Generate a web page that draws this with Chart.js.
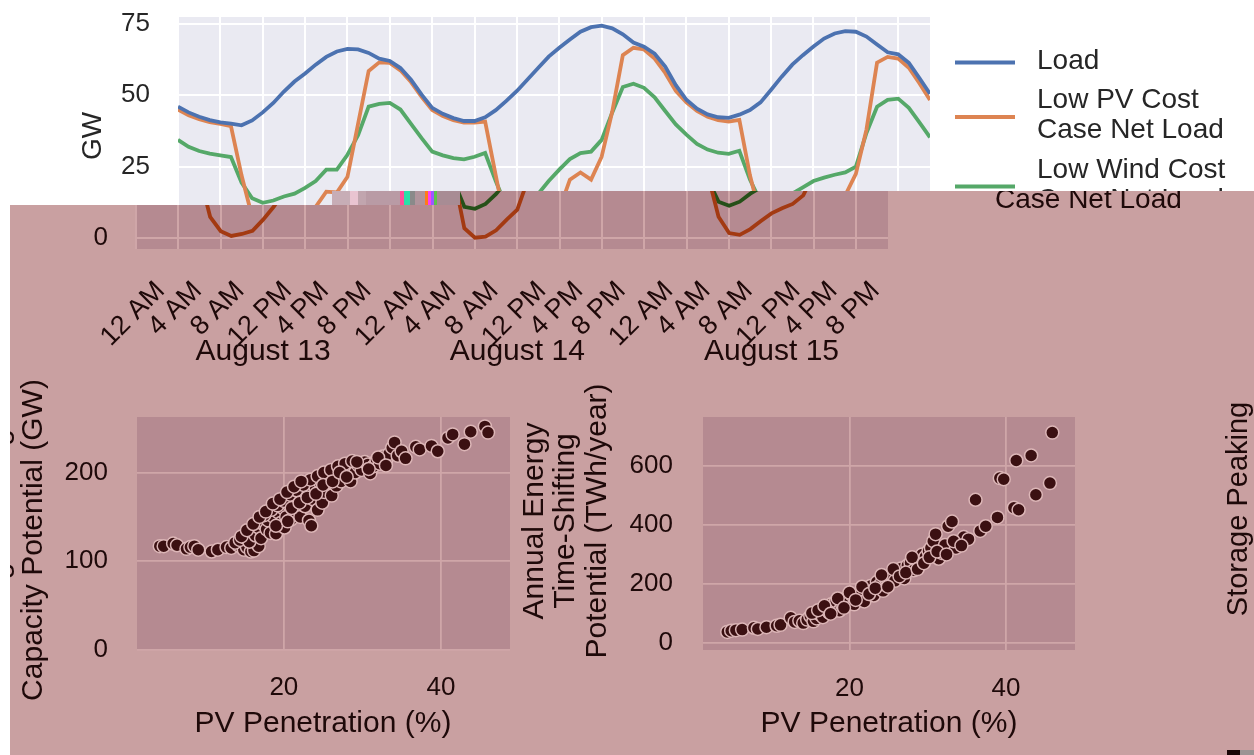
<!DOCTYPE html>
<html>
<head>
<meta charset="utf-8">
<script src="https://cdn.jsdelivr.net/npm/chart.js@4.4.1/dist/chart.umd.min.js"></script>
<style>
  html, body { margin: 0; padding: 0; background: #ffffff; }
  #page { position: relative; width: 1254px; height: 755px; overflow: hidden; }
  canvas { position: absolute; left: 0; top: 0; }
  #lower {
    position: absolute; left: 0; top: 0; width: 1254px; height: 755px;
    background: #c9a0a1;
    clip-path: polygon(10px 205px, 332px 205px, 332px 191px, 1254px 191px, 1254px 755px, 10px 755px);
  }
  #strip {
    position: absolute; left: 332px; top: 191px; width: 128px; height: 14px;
    background: linear-gradient(to right,
      #c7adb6 0px, #c7adb6 18px, #e9c4d1 18px, #e9c4d1 26px, #c1a5ae 26px, #c1a5ae 34px,
      #b99ba5 34px, #b99ba5 68px, #ff4f9a 68px, #ff4f9a 72px, #2adfa8 72px, #2adfa8 78px,
      #8a8a8a 78px, #8a8a8a 83px, #b0949c 83px, #b0949c 93px, #ff7a1a 93px, #ff7a1a 96px,
      #ff3df0 96px, #ff3df0 99px, #9b59ff 99px, #9b59ff 102px, #5fc24a 102px, #5fc24a 105px,
      #a88c94 105px, #a88c94 128px);
  }
  #corner1 { position: absolute; left: 1227px; top: 750px; width: 13px; height: 5px; background: #1a0606; }
  #corner2 { position: absolute; left: 1240px; top: 750px; width: 14px; height: 5px; background: #9c9494; }
</style>
</head>
<body>
<div id="page">
  <canvas id="topChart" width="1254" height="755"></canvas>
  <div id="lower">
    <canvas id="copyChart" width="1254" height="755"></canvas>
    <canvas id="capChart" width="1254" height="755"></canvas>
    <canvas id="shiftChart" width="1254" height="755"></canvas>
  </div>
  <div id="strip"></div>
  <div id="corner1"></div>
  <div id="corner2"></div>
</div>
<script>
// ---------- data ----------
const HOURS = [0,1,2,3,4,5,6,7,8,9,10,11,12,13,14,15,16,17,18,19,20,21,22,23,
               24,25,26,27,28,29,30,31,32,33,34,35,36,37,38,39,40,41,42,43,44,45,46,47,
               48,49,50,51,52,53,54,55,56,57,58,59,60,61,62,63,64,65,66,67,68,69,70,71];
const HOUR_LABELS = ['12 AM', '4 AM', '8 AM', '12 PM', '4 PM', '8 PM'];
const DAY_LABELS = ['August 13', 'August 14', 'August 15'];
const SERIES_NAMES = ['Load', 'Low PV Cost\nCase Net Load', 'Low Wind Cost\nCase Net Load'];

const LOAD = [46,44,42.5,41.3,40.5,40.1,39.5,41.2,44,47.3,51.3,54.8,57.6,60.7,63.4,65.3,66.2,66,64.8,62.8,62,59.5,55.4,50.2,
              45.6,43.5,42,41,41,42.3,44.8,48,51.5,55.5,59.5,63.5,66.6,69.5,72.2,73.8,74.3,73.4,71.3,68.4,67,64.5,60,53.5,
              48.4,45.3,43.3,42.3,42.1,43.2,44.8,47.5,51.9,56.5,60.7,64,67,69.8,71.6,72.4,72.2,70.5,67.7,65,64.3,61.3,56,50.5];
const PV_NET = [45,43,41.6,40.6,40,39.2,22,7.5,2.5,0.8,1.5,2.6,6.5,11,16.3,16,21.5,40,58.5,61.5,61.3,58.7,54.6,49.4,
                44.8,42.7,41.3,40.4,40.4,40.8,22,3.5,0.2,0.6,2.8,6.5,10,20.5,23,20.5,28.5,44.3,64,66.6,66,62.8,57.8,51.5,
                47.5,44.5,42.5,41.3,40.8,41.4,22,7.5,1.8,1.2,3.2,6,8.7,10.5,12,15,22.5,38,61.4,63.4,62.8,59.6,54.2,48.3];
const WIND_NET = [34.4,32,30.5,29.6,29,28.4,19.5,14,12.4,13.2,14.6,15.6,17.6,20,24,24,29.2,36,46,47,47.3,45,40,35,
                  30.3,29,28,27.6,28.5,29.8,20,11,10.3,12,15.5,20,24,27.7,29.8,30.3,34.4,44,52.9,54,52.6,49.3,44.5,39.8,
                  36.2,33,31,29.9,29.5,30.6,20.5,12.8,11.4,12.8,15.6,17.8,20,21.2,22.2,23,25,36.8,46,48.4,48.8,45.6,40.5,35.3];
const GW_TICKS = [0, 25, 50, 75];

// storage peaking capacity potential vs PV penetration
const CAP_PEN = [4.2,4.7,5.9,6.4,7.6,8.1,8.6,9.1,10.8,11.6,12.7,13.3,14.2,14.9,15.3,15.8,16.2,16.8,
                 13.8,14.4,15.0,15.6,16.0,16.4,16.8,17.1,17.4,17.8,18.0,18.3,18.7,19.0,19.3,19.6,19.9,20.1,
                 20.3,20.6,20.9,21.2,21.5,21.8,22.1,22.4,22.7,23.0,23.2,23.5,23.7,24.0,24.3,24.6,24.9,25.2,
                 25.5,25.8,26.1,26.4,26.7,27.0,27.3,27.6,27.9,28.2,28.5,28.8,29.1,29.5,29.9,30.3,30.7,31.0,
                 31.4,31.8,32.2,32.6,33.0,33.4,33.8,34.1,34.5,35.0,35.5,36.8,37.3,38.8,39.6,40.9,41.5,43.0,
                 43.8,45.6,46.0,17.5,18.4,19.2,20.0,20.8,21.6,22.5,23.4,24.3,25.1,26.0,26.9,27.8,28.7,
                 14.6,15.3,16.1,16.9,17.7,18.6,19.5,20.4,21.3,22.2,19.0,20.5,21.0,22.0,23.0,24.1,
                 25.0,26.2,27.1,28.0,29.3,30.8,32.0,33.0];
const CAP_GW = [117,117,120,118,114,116,117,113,111,113,116,115,118,113,116,111,112,117,
                121,124,127,122,133,129,138,126,142,136,146,132,150,131,155,143,160,138,
                150,164,147,168,156,172,150,176,162,180,146,140,170,184,158,189,166,178,
                193,189,174,198,185,196,190,202,198,205,190,206,200,208,203,212,209,199,
                207,214,210,218,213,221,228,234,219,224,216,229,226,230,224,239,243,232,
                246,252,245,152,158,163,168,175,180,186,192,196,200,203,207,210,213,
                128,135,142,150,156,165,170,178,184,190,140,145,160,166,172,176,
                186,190,200,195,212,204,217,208];
const CAP_TICKS = [0, 100, 200];

// annual energy time-shifting potential vs PV penetration
const SHIFT_PEN = [4.4,4.9,5.5,6.3,7.8,8.3,9.4,10.7,11.2,12.5,13.0,13.6,14.1,14.6,15.0,15.4,15.8,16.2,
                   16.6,17.0,17.4,17.7,18.0,18.3,18.7,19.1,19.5,19.9,20.3,20.6,21.1,21.5,21.9,22.3,22.7,23.1,
                   23.5,23.9,24.3,24.6,25.0,25.4,25.8,26.2,26.6,27.0,27.4,27.8,28.2,28.6,28.9,29.3,29.7,30.1,
                   30.4,30.7,31.0,31.4,31.8,32.2,32.6,33.1,33.6,34.1,34.6,35.2,36.1,36.7,37.4,38.9,39.2,39.7,
                   41.0,41.6,41.3,43.2,43.8,45.6,45.9,
                   15.2,16.0,16.8,17.6,18.5,19.3,20.0,20.8,21.6,22.5,23.3,24.1,24.9,25.6,26.4,27.2,
                   28.0,28.7,29.5,30.2,31.2,32.4,33.3,34.3];
const SHIFT_TWH = [36,40,42,44,50,46,52,57,60,84,70,74,66,78,90,72,82,96,
                   86,112,102,130,118,140,108,126,150,142,162,130,156,175,140,180,192,160,
                   206,196,176,218,202,230,210,242,252,218,262,272,246,282,262,300,292,312,
                   322,345,369,285,305,332,396,412,322,342,359,352,486,380,396,426,560,556,
                   459,452,620,637,503,543,715,
                   100,110,125,98,150,118,170,145,190,165,185,230,190,250,225,238,
                   290,250,270,290,310,300,345,330];
const SHIFT_TICKS = [0, 200, 400, 600];
const PEN_TICKS = [20, 40];

// ---------- look ----------
const W = 1254, H = 755;
const FONT = '"Liberation Sans", Arial, Helvetica, sans-serif';
const LIGHT = { plot: '#eaeaf2', grid: '#ffffff', text: '#262626', lines: ['#4c72b0', '#dd8452', '#55a868'] };
const PINK = { plot: '#b58a91', grid: '#cfa6a8', text: '#1e0909', lines: ['#3c4d83', '#a33a12', '#265018'] };
const CLEAR = 'rgba(0,0,0,0)';

Chart.defaults.font.family = FONT;

const plotBg = {
  id: 'plotBg',
  beforeDraw(chart, args, opts) {
    const { ctx, chartArea: a } = chart;
    ctx.save();
    ctx.fillStyle = opts.color;
    ctx.fillRect(a.left, a.top, a.right - a.left, a.bottom - a.top);
    ctx.restore();
  }
};

const texts = {
  id: 'texts',
  afterDraw(chart, args, opts) {
    const ctx = chart.ctx;
    (opts.items || []).forEach(t => {
      ctx.save();
      ctx.font = t.size + 'px ' + FONT;
      ctx.fillStyle = t.color;
      ctx.textAlign = t.align || 'center';
      ctx.textBaseline = t.baseline || 'middle';
      ctx.translate(t.x, t.y);
      if (t.rot) ctx.rotate(t.rot * Math.PI / 180);
      ctx.fillText(t.text, 0, 0);
      ctx.restore();
    });
  }
};

// slanted hour labels and day names under the time axis
const hourLabels = {
  id: 'hourLabels',
  afterDraw(chart, args, opts) {
    if (!opts.show) return;
    const ctx = chart.ctx, xs = chart.scales.x;
    ctx.save();
    ctx.fillStyle = opts.color;
    ctx.font = opts.size + 'px ' + FONT;
    ctx.textAlign = 'center';
    ctx.textBaseline = 'middle';
    xs.ticks.forEach(t => {
      const label = HOUR_LABELS[(t.value / 4) % HOUR_LABELS.length];
      const w = ctx.measureText(label).width;
      const ext = (w + opts.size * 0.8) * Math.SQRT1_2;
      ctx.save();
      ctx.translate(xs.getPixelForValue(t.value) + opts.dx, opts.top + ext / 2);
      ctx.rotate(-Math.PI / 4);
      ctx.fillText(label, 0, 0);
      ctx.restore();
    });
    ctx.font = opts.daySize + 'px ' + FONT;
    ctx.textBaseline = 'alphabetic';
    DAY_LABELS.forEach((d, i) => {
      ctx.fillText(d, xs.getPixelForValue(24 * i + 12), opts.dayBaseline);
    });
    ctx.restore();
  }
};

const legendBox = {
  id: 'legendBox',
  afterDraw(chart, args, opts) {
    const ctx = chart.ctx, a = chart.chartArea;
    ctx.save();
    ctx.font = opts.size + 'px ' + FONT;
    ctx.textBaseline = 'middle';
    ctx.textAlign = 'left';
    let y = opts.top;
    chart.data.datasets.forEach(ds => {
      const lines = ds.label.split('\n');
      const mid = y + (lines.length - 1) * opts.lineGap / 2 + 1.5;
      ctx.strokeStyle = ds.borderColor;
      ctx.lineWidth = 4;
      ctx.beginPath();
      ctx.moveTo(a.right + 25, mid);
      ctx.lineTo(a.right + 85, mid);
      ctx.stroke();
      ctx.fillStyle = opts.color;
      lines.forEach((ln, k) => ctx.fillText(ln, a.right + 107, y + k * opts.lineGap));
      y += (lines.length - 1) * opts.lineGap + opts.entryGap;
    });
    ctx.restore();
  }
};

function tickList(values) {
  return s => { s.ticks = values.map(v => ({ value: v })); };
}

// tick labels are pushed away from the plot by an invisible tick mark
function gridWithGap(color, width, gap) {
  return { color, lineWidth: width, drawTicks: true, tickLength: gap, tickColor: CLEAR };
}

function timeChart(id, theme, area, showLabels, extraTexts) {
  const datasets = [LOAD, PV_NET, WIND_NET].map((vals, i) => ({
    label: SERIES_NAMES[i],
    data: HOURS.map((h, j) => ({ x: h, y: vals[j] })),
    borderColor: theme.lines[i],
    borderWidth: 3.8,
    pointRadius: 0,
    tension: 0,
    fill: false
  }));
  return new Chart(document.getElementById(id), {
    type: 'line',
    data: { datasets },
    options: {
      responsive: false, animation: false, devicePixelRatio: 1,
      layout: { padding: { left: 0, top: area.top, right: W - area.right, bottom: 0 } },
      plugins: {
        legend: { display: false }, tooltip: { enabled: false },
        plotBg: { color: theme.plot },
        hourLabels: { show: showLabels, color: theme.text, size: 27, top: 279, dx: -3, daySize: 30, dayBaseline: 360 },
        legendBox: { color: theme.text, size: 28, top: 61, lineGap: 30, entryGap: 39.5 },
        texts: { items: extraTexts }
      },
      scales: {
        x: {
          type: 'linear', min: 0, max: 71,
          afterBuildTicks: tickList(HOURS.filter(h => h % 4 === 0)),
          ticks: { display: false },
          grid: { color: theme.grid, lineWidth: 2, drawTicks: false },
          border: { display: false },
          afterFit: s => { s.height = H - area.bottom; }
        },
        y: {
          min: -3.75, max: 77.35,
          afterBuildTicks: tickList(GW_TICKS),
          ticks: { color: theme.text, font: { size: 26 }, padding: 0 },
          grid: gridWithGap(theme.grid, 2, 28),
          border: { display: false },
          afterFit: s => { s.width = area.left; }
        }
      }
    },
    plugins: [plotBg, hourLabels, legendBox, texts]
  });
}

function scatterChart(id, xs, ys, yMin, yMax, yTicks, area, gap, titleItems) {
  return new Chart(document.getElementById(id), {
    type: 'scatter',
    data: {
      datasets: [{
        data: xs.map((x, i) => ({ x, y: ys[i] })),
        backgroundColor: '#3b1012',
        borderColor: '#dcb6b7',
        borderWidth: 1.5,
        pointRadius: 6.5
      }]
    },
    options: {
      responsive: false, animation: false, devicePixelRatio: 1,
      layout: { padding: { left: 0, top: area.top, right: W - area.right, bottom: 0 } },
      plugins: {
        legend: { display: false }, tooltip: { enabled: false },
        plotBg: { color: PINK.plot },
        texts: { items: titleItems }
      },
      scales: {
        x: {
          type: 'linear', min: 1.3, max: 48.8,
          afterBuildTicks: tickList(PEN_TICKS),
          ticks: { color: PINK.text, font: { size: 26, lineHeight: 1 }, padding: 0 },
          grid: gridWithGap(PINK.grid, 1.8, gap.x),
          border: { display: false },
          afterFit: s => { s.height = H - area.bottom; }
        },
        y: {
          min: yMin, max: yMax,
          afterBuildTicks: tickList(yTicks),
          ticks: { color: PINK.text, font: { size: 26 }, padding: 0 },
          grid: gridWithGap(PINK.grid, 1.8, gap.y),
          border: { display: false },
          afterFit: s => { s.width = area.left; }
        }
      }
    },
    plugins: [plotBg, texts]
  });
}

// upper panel, regular colours
timeChart('topChart', LIGHT, { left: 178, right: 930, top: 17, bottom: 249 }, false, [
  { text: 'GW', x: 93, y: 136, rot: -90, size: 28, color: LIGHT.text }
]);

// the same panel drawn again inside the tinted lower band
timeChart('copyChart', PINK, { left: 136, right: 888, top: 17, bottom: 249 }, true, []);

scatterChart('capChart', CAP_PEN, CAP_GW, 0, 262.6, CAP_TICKS,
  { left: 137, right: 510, top: 417, bottom: 650 }, { x: 25, y: 29 }, [
    { text: 'PV Penetration (%)', x: 323, y: 724, size: 30, color: PINK.text },
    { text: 'Storage Peaking', x: 0, y: 540, rot: -90, size: 30, color: PINK.text },
    { text: 'Capacity Potential (GW)', x: 34, y: 540, rot: -90, size: 30, color: PINK.text }
  ]);

scatterChart('shiftChart', SHIFT_PEN, SHIFT_TWH, -25.6, 768, SHIFT_TICKS,
  { left: 703, right: 1075, top: 417, bottom: 650 }, { x: 26, y: 30 }, [
    { text: 'PV Penetration (%)', x: 889, y: 724, size: 30, color: PINK.text },
    { text: 'Annual Energy', x: 535, y: 521, rot: -90, size: 30, color: PINK.text },
    { text: 'Time-Shifting', x: 566, y: 521, rot: -90, size: 30, color: PINK.text },
    { text: 'Potential (TWh/year)', x: 598, y: 521, rot: -90, size: 30, color: PINK.text },
    { text: 'Storage Peaking', x: 1239, y: 509, rot: -90, size: 29, color: PINK.text }
  ]);
</script>
</body>
</html>
